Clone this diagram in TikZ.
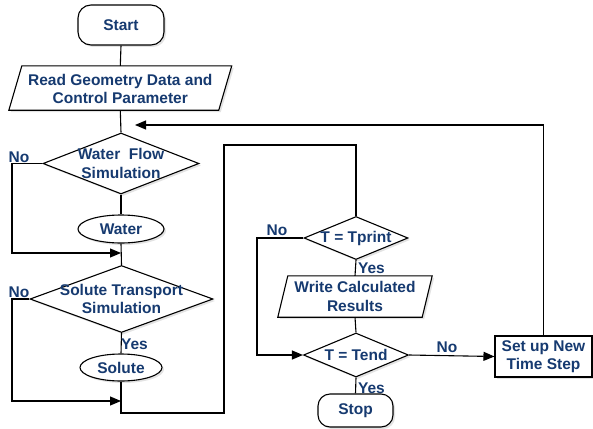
\documentclass[tikz,border=0pt]{standalone}
\usepackage{fontspec}
\setmainfont{Liberation Sans}
\usetikzlibrary{shapes.geometric,shadows,arrows.meta}
\definecolor{txtblue}{RGB}{22,58,112}
\begin{document}
\begin{tikzpicture}[x=1pt,y=-1pt,
  every node/.style={font=\fontsize{15.5}{18.5}\selectfont\bfseries, text=txtblue, align=center, inner sep=0pt},
  shad/.style={drop shadow={shadow xshift=2pt,shadow yshift=-2pt,fill=black!22}},
  ln/.style={draw=black, line width=1.1pt},
  box/.style={ln, fill=white, shad},
  dia/.style={box, diamond},
  term/.style={box, rectangle, rounded corners=13pt},
  ell/.style={box, ellipse},
  ghost/.style={rectangle, draw=none},
  arr/.style={ln, -{Triangle[length=11pt,width=9pt]}},
  lbl/.style={}
]
\useasboundingbox (0,0) rectangle (593,428);

% Nodes
\node[term, minimum width=86pt, minimum height=40pt] (start) at (121,25) {Start};

\node[ghost, minimum width=209.5pt, minimum height=44pt] (read) at (120.3,88) {};
\draw[box] ([xshift=6.5pt]read.north west) -- ([xshift=6.5pt]read.north east)
  -- ([xshift=-6.5pt]read.south east) -- ([xshift=-6.5pt]read.south west) -- cycle;
\node at ([yshift=-1pt]read.center) {Read Geometry Data and\\Control Parameter};

\node[dia, minimum width=156pt, minimum height=61pt] (wf) at (121,163.5) {};
\node at (wf.center) {Water~~Flow\\Simulation};

\node[ell, minimum width=86pt, minimum height=28pt] (water) at (121,229) {Water};

\node[dia, minimum width=183pt, minimum height=67pt] (sol) at (121.5,299) {};
\node at (sol.center) {Solute Transport\\Simulation};

\node[ell, minimum width=82pt, minimum height=27pt] (solute) at (121,367.5) {Solute};

\node[dia, minimum width=104pt, minimum height=43pt] (tprint) at (356,238) {};
\node at (tprint.center) {T = Tprint};

\node[ghost, minimum width=144pt, minimum height=41pt] (write) at (355,296.5) {};
\draw[box] ([xshift=5pt]write.north west) -- ([xshift=5pt]write.north east)
  -- ([xshift=-5pt]write.south east) -- ([xshift=-5pt]write.south west) -- cycle;
\node at (write.center) {Write Calculated\\Results};

\node[dia, minimum width=105pt, minimum height=44pt] (tend) at (356,355) {};
\node at (tend.center) {T = Tend};

\node[box, rectangle, minimum width=97pt, minimum height=41pt] (setup) at (543.5,356.5) {Set up New\\Time Step};

\node[term, rounded corners=12pt, minimum width=75pt, minimum height=33pt] (stop) at (355.5,410.5) {Stop};

% Coordinates
\coordinate (loopend) at (135,125);
\coordinate (j1) at (121,253);
\coordinate (j2) at (121,401);

% Connectors
\draw[ln] (start.south) -- (read.north);
\draw[ln] (read.south) -- (wf.north);
\draw[arr] (setup.north) |- (loopend);
\draw[ln] (wf.south) -- (water.north);
\draw[arr] (wf.west) -- (12,163.5) |- (j1);
\draw[ln] (water.south) -- (sol.north);
\draw[arr] (sol.west) -- (12,299) |- (j2);
\draw[ln] (sol.south) -- (solute.north);
\draw[ln] (solute.south) |- (224,413) |- (356,145) -- (tprint.north);
\draw[arr] (tprint.west) -- (257,238) |- (tend.west);
\draw[ln] (tprint.south) -- (write.north);
\draw[ln] (write.south) -- (tend.north);
\draw[arr] (tend.east) -- (setup.west);
\draw[ln] (tend.south) -- (stop.north);

% Labels
\node[lbl] at (19,157) {No};
\node[lbl] at (19,292) {No};
\node[lbl] at (134.5,344) {Yes};
\node[lbl] at (277,230) {No};
\node[lbl] at (371.5,268) {Yes};
\node[lbl] at (447,347) {No};
\node[lbl] at (371.5,388) {Yes};
\end{tikzpicture}
\end{document}
